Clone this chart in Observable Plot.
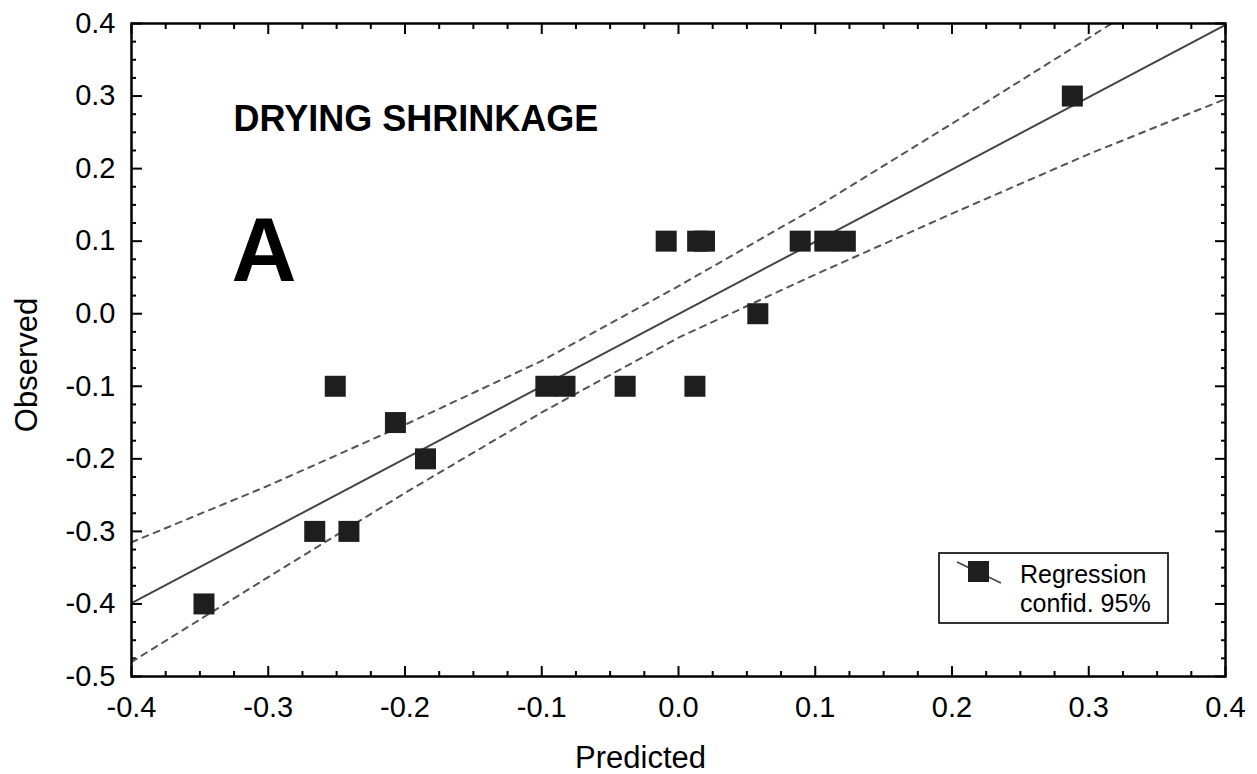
<!DOCTYPE html>
<html><head><meta charset="utf-8">
<script src="https://cdn.jsdelivr.net/npm/d3@7"></script>
<script src="https://cdn.jsdelivr.net/npm/@observablehq/plot@0.6"></script>
<style>
body{margin:0;background:#fff;}
#chart{width:1257px;height:774px;}
</style>
</head><body><div id="chart"></div>
<script>
// Observed vs predicted values
const predicted = [-0.347,-0.266,-0.241,-0.251,-0.207,-0.185,-0.097,-0.083,-0.039,0.012,-0.009,0.014,0.019,0.058,0.089,0.107,0.122,0.288];
const observed  = [-0.4,-0.3,-0.3,-0.1,-0.15,-0.2,-0.1,-0.1,-0.1,-0.1,0.1,0.1,0.1,0.0,0.1,0.1,0.1,0.3];

// Regression line and 95% confidence band
const fitX = [-0.4, 0.4];
const fitY = [-0.399, 0.398];
const bandX     = [-0.4, -0.3, -0.2, -0.1, 0.0, 0.1, 0.2, 0.3, 0.4];
const bandUpper = [-0.315,-0.237,-0.153,-0.065,0.038,0.146,0.262,0.380,0.500];
const bandLower = [-0.480,-0.363,-0.247,-0.136,-0.033,0.054,0.138,0.220,0.296];

// Ticks
const xTicks = [-0.4,-0.3,-0.2,-0.1,0,0.1,0.2,0.3,0.4];
const xTickLabels = ["-0.4","-0.3","-0.2","-0.1","0.0","0.1","0.2","0.3","0.4"];
const yTicks = [-0.5,-0.4,-0.3,-0.2,-0.1,0,0.1,0.2,0.3,0.4];
const yTickLabels = ["-0.5","-0.4","-0.3","-0.2","-0.1","0.0","0.1","0.2","0.3","0.4"];
const xMinor = [-0.375,-0.35,-0.325,-0.275,-0.25,-0.225,-0.175,-0.15,-0.125,-0.075,-0.05,-0.025,0.025,0.05,0.075,0.125,0.15,0.175,0.225,0.25,0.275,0.325,0.35,0.375];
const yMinor = [-0.475,-0.45,-0.425,-0.375,-0.35,-0.325,-0.275,-0.25,-0.225,-0.175,-0.15,-0.125,-0.075,-0.05,-0.025,0.025,0.05,0.075,0.125,0.15,0.175,0.225,0.25,0.275,0.325,0.35,0.375];

const titleText = "DRYING SHRINKAGE";
const panelLetter = "A";
const xLabel = "Predicted";
const yLabel = "Observed";
const legendLines = ["Regression", "confid. 95%"];

const points = predicted.map((p, i) => ({p, o: observed[i]}));
const fit = fitX.map((x, i) => ({x, y: fitY[i]}));
const upper = bandX.map((x, i) => ({x, y: bandUpper[i]}));
const lower = bandX.map((x, i) => ({x, y: bandLower[i]}));
const xLab = new Map(xTicks.map((t, i) => [t, xTickLabels[i]]));
const yLab = new Map(yTicks.map((t, i) => [t, yTickLabels[i]]));

const FONT = "Liberation Sans, Arial, Helvetica, sans-serif";
const tk = {stroke: "#000", strokeWidth: 2, label: null, tickFormat: () => ""};

const svg = Plot.plot({
  width: 1257,
  height: 774,
  marginLeft: 131,
  marginRight: 32,
  marginTop: 23,
  marginBottom: 98,
  style: {fontFamily: FONT, color: "#000", background: "#fff"},
  x: {domain: [-0.4, 0.4]},
  y: {domain: [-0.5, 0.4]},
  marks: [
    // inward ticks on all four sides
    Plot.axisX(xTicks, {...tk, anchor: "bottom", tickSize: -10}),
    Plot.axisX(xMinor, {...tk, anchor: "bottom", tickSize: -5}),
    Plot.axisX(xTicks, {...tk, anchor: "top", tickSize: -10}),
    Plot.axisX(xMinor, {...tk, anchor: "top", tickSize: -5}),
    Plot.axisY(yTicks, {...tk, anchor: "left", tickSize: -11}),
    Plot.axisY(yMinor, {...tk, anchor: "left", tickSize: -5}),
    Plot.axisY(yTicks, {...tk, anchor: "right", tickSize: -11}),
    Plot.axisY(yMinor, {...tk, anchor: "right", tickSize: -5}),
    // tick labels
    Plot.axisX(xTicks, {anchor: "bottom", tickSize: 0, tickPadding: 20, tickFormat: d => xLab.get(d), fontSize: 29, label: null}),
    Plot.axisY(yTicks, {anchor: "left", tickSize: 0, tickPadding: 16, tickFormat: d => yLab.get(d), fontSize: 29, label: null}),
    // band and fit
    Plot.line(upper, {x: "x", y: "y", stroke: "#555", strokeWidth: 2, strokeDasharray: "6,6", clip: true}),
    Plot.line(lower, {x: "x", y: "y", stroke: "#555", strokeWidth: 2, strokeDasharray: "6,6", clip: true}),
    Plot.line(fit, {x: "x", y: "y", stroke: "#444", strokeWidth: 2, clip: true}),
    Plot.dot(points, {x: "p", y: "o", symbol: "square", r: 11.85, fill: "#1e1e1e", stroke: null}),
    Plot.frame({stroke: "#000", strokeWidth: 2.5}),
    // annotations
    Plot.text([titleText], {text: d => d, frameAnchor: "top-left", dx: 102, dy: 107, textAnchor: "start", lineAnchor: "bottom", fontSize: 36, fontWeight: "bold", fill: "#000"}),
    Plot.text([panelLetter], {text: d => d, frameAnchor: "top-left", dx: 100, dy: 257, textAnchor: "start", lineAnchor: "bottom", fontSize: 90, fontWeight: "bold", fill: "#000"}),
    Plot.text([xLabel], {text: d => d, frameAnchor: "bottom", dx: -38, dy: 91, textAnchor: "middle", lineAnchor: "bottom", fontSize: 31, fill: "#000"}),
    Plot.text([yLabel], {text: d => d, frameAnchor: "left", dx: -95, dy: 15, rotate: -90, textAnchor: "middle", lineAnchor: "bottom", fontSize: 31, fill: "#000"})
  ]
});

// Legend box (inside the plot frame, lower right)
const lg = d3.select(svg).append("g").attr("font-family", FONT).attr("text-anchor", "start");
lg.append("rect").attr("x", 939).attr("y", 553).attr("width", 229).attr("height", 70)
  .attr("fill", "#fff").attr("stroke", "#000").attr("stroke-width", 1.6);
lg.append("line").attr("x1", 957).attr("y1", 562).attr("x2", 1001).attr("y2", 583)
  .attr("stroke", "#444").attr("stroke-width", 1.6);
lg.append("rect").attr("x", 968).attr("y", 561).attr("width", 21).attr("height", 21).attr("fill", "#1e1e1e");
lg.selectAll("text.l").data(legendLines).join("text")
  .attr("x", 1020).attr("y", (d, i) => 583 + i * 29)
  .attr("text-anchor", "start")
  .attr("font-size", 25).attr("fill", "#000").text(d => d);

document.getElementById("chart").appendChild(svg);
</script>
</body></html>
